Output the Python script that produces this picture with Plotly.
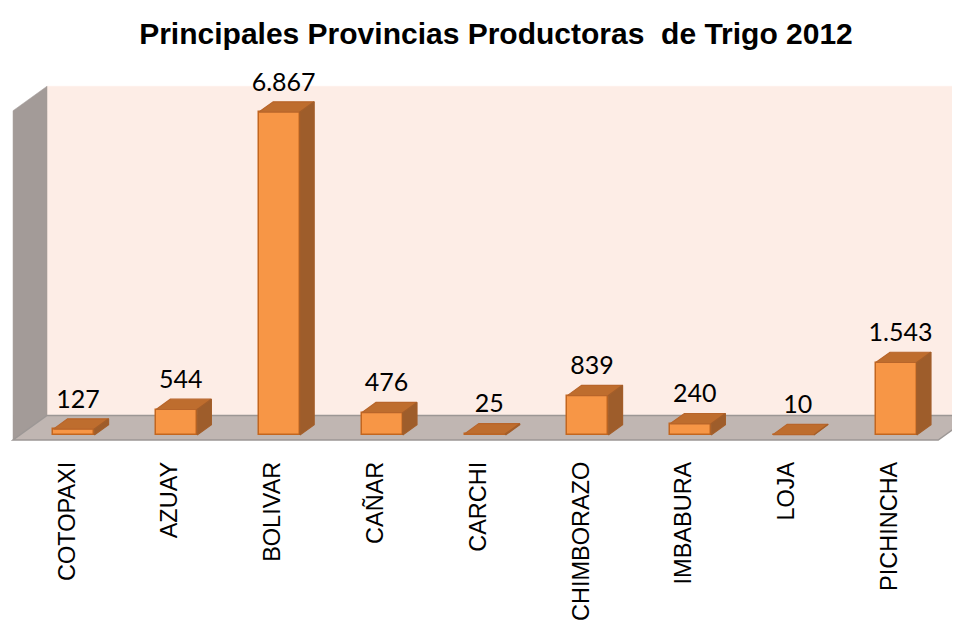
import plotly.graph_objects as go

# ---- data ----
provincias = ["COTOPAXI", "AZUAY", "BOLIVAR", "CAÑAR", "CARCHI",
              "CHIMBORAZO", "IMBABURA", "LOJA", "PICHINCHA"]
produccion = [127, 544, 6867, 476, 25, 839, 240, 10, 1543]
axis_max = 7000

# ---- geometry (pixel scale -> data units) ----
PAGE_OFF = 8                        # default body margin of the html page
PX_PER_CAT = 102.8
PX_PER_VAL = 0.04704
FULL_DX = 34 / PX_PER_CAT           # full depth shift in category units
FULL_DY = 24.5 / PX_PER_VAL         # full depth shift in value units
F_FRONT = 0.2                       # depth where bars start
F_BAR = 0.42                        # bar depth
BAR_W = 41 / PX_PER_CAT
X_LEFT, X_RIGHT = -0.525, 8.475
LABEL_PAD = 5 / PX_PER_VAL

n = len(provincias)
idx = list(range(n))

fig = go.Figure()


def path_of(xs, ys):
    pts = " L ".join(f"{x:.5f},{y:.3f}" for x, y in zip(xs, ys))
    return f"M {pts} Z"


def wall(xs, ys, fill, line_color, lw=0.5):
    fig.add_shape(type="path", path=path_of(xs, ys), xref="x", yref="y",
                  fillcolor=fill, line=dict(color=line_color, width=lw), layer="below")


def poly(xs, ys, fill, line_color, lw=1.0):
    fig.add_trace(go.Scatter(x=xs + [xs[0]], y=ys + [ys[0]], mode="lines",
                             fill="toself", fillcolor=fill,
                             line=dict(color=line_color, width=lw),
                             hoverinfo="skip", showlegend=False))


dXf, dYf = FULL_DX, FULL_DY
# back wall
wall([X_LEFT + dXf, X_RIGHT + dXf, X_RIGHT + dXf, X_LEFT + dXf],
     [dYf, dYf, dYf + axis_max, dYf + axis_max], "#FDEDE6", "#FDEDE6")
# left wall
wall([X_LEFT, X_LEFT + dXf, X_LEFT + dXf, X_LEFT],
     [0, dYf, dYf + axis_max, axis_max], "#A39B98", "#A39B98")
# floor
wall([X_LEFT, X_RIGHT, X_RIGHT + dXf, X_LEFT + dXf],
     [0, 0, dYf, dYf], "#C0B6B2", "#9C9795", 1.5)

# bars (front faces)
bx0 = F_FRONT * FULL_DX
by0 = F_FRONT * FULL_DY
bdx = F_BAR * FULL_DX
bdy = F_BAR * FULL_DY
bar_x = [i + bx0 for i in idx]
fig.add_trace(go.Bar(x=bar_x, y=produccion, base=[by0] * n, width=BAR_W,
                     marker=dict(color="#F79646", line=dict(color="#C3661F", width=1.5)),
                     hoverinfo="skip", showlegend=False))

# top and side faces
for xc, v in zip(bar_x, produccion):
    xl, xr = xc - BAR_W / 2, xc + BAR_W / 2
    top = by0 + v
    poly([xl, xr, xr + bdx, xl + bdx], [top, top, top + bdy, top + bdy],
         "#BE6D2E", "#B8652A", 1.2)
    poly([xr, xr + bdx, xr + bdx, xr], [by0, by0 + bdy, top + bdy, top],
         "#9E5D2B", "#A35E2A", 1.2)

# value labels
fig.add_trace(go.Scatter(
    x=[x + bdx * 0.3 for x in bar_x],
    y=[by0 + v + bdy + LABEL_PAD for v in produccion],
    mode="text", text=produccion, texttemplate="%{text:,}",
    textposition="top center",
    textfont=dict(family="Lato, Carlito, Calibri, sans-serif", size=25, color="#000000"),
    hoverinfo="skip", showlegend=False))

# page pixel -> figure pixel (figure is drawn 8px in from the page corner)
zero_px = 440 - PAGE_OFF          # front-plane value 0
front0_px = 67 - PAGE_OFF         # front-plane category 0
top_m = 50 - PAGE_OFF
bot_px = zero_px + 2
y_lo = -(bot_px - zero_px) / PX_PER_VAL
y_hi = (zero_px - top_m) / PX_PER_VAL
x_lo = -front0_px / PX_PER_CAT
x_hi = (960 - front0_px) / PX_PER_CAT

fig.update_layout(
    width=960, height=628,
    margin=dict(l=0, r=0, t=top_m, b=628 - bot_px),
    paper_bgcolor="white", plot_bgcolor="white",
    separators=",.",
    title=dict(text="<b>Principales Provincias Productoras\u00a0 de Trigo 2012</b>",
               x=(496 - PAGE_OFF) / 960, xanchor="center",
               y=1 - (33 - PAGE_OFF) / 628, yanchor="middle",
               font=dict(family="Arial, Liberation Sans, sans-serif", size=30, color="#000000")),
    xaxis=dict(range=[x_lo, x_hi], tickvals=idx, ticktext=provincias, tickangle=-90,
               showgrid=False, zeroline=False, showline=False, ticks="",
               ticklabelstandoff=14,
               tickfont=dict(family="Arial, Liberation Sans, sans-serif", size=23.5, color="#000000")),
    yaxis=dict(range=[y_lo, y_hi], visible=False, showgrid=False, zeroline=False),
    bargap=0,
)

fig.write_html("out.html")
